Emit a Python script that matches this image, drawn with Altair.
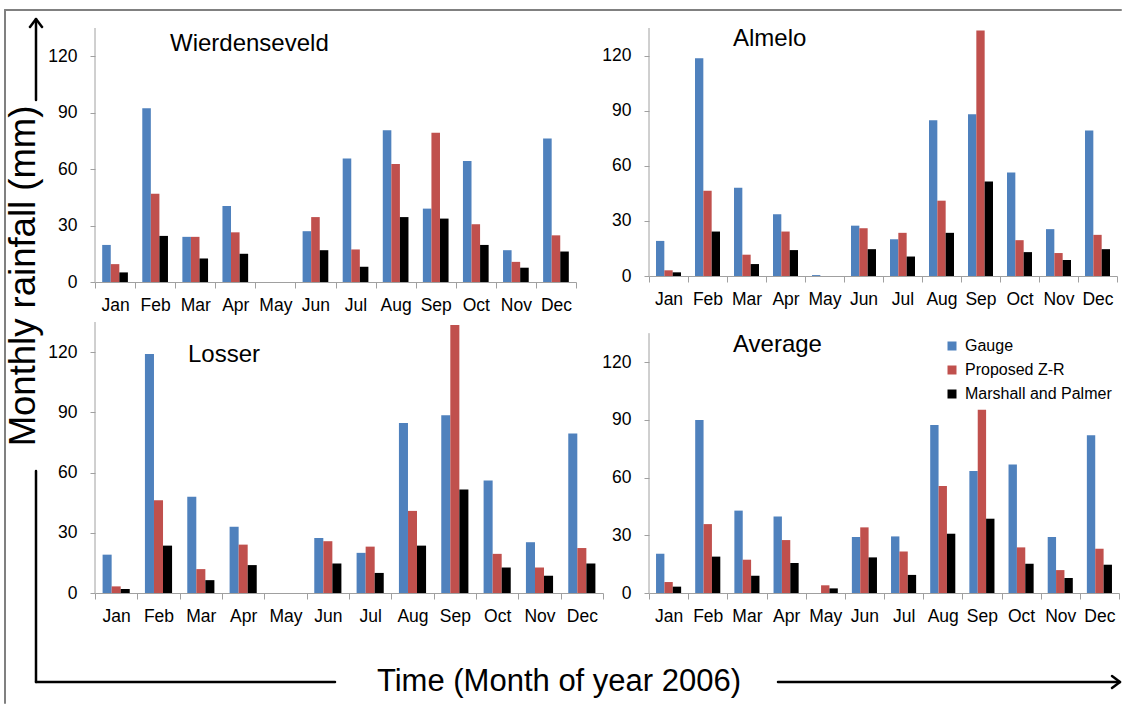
import altair as alt
import pandas as pd

FONT = "Liberation Sans"

# ---- data -------------------------------------------------------------
months = ["Jan", "Feb", "Mar", "Apr", "May", "Jun",
          "Jul", "Aug", "Sep", "Oct", "Nov", "Dec"]
series = ["Gauge", "Proposed Z-R", "Marshall and Palmer"]
series_colors = ["#4F81BD", "#C0504D", "#000000"]
y_ticks = [0, 30, 60, 90, 120]
AXIS_TOP = 135

wierdenseveld_gauge = [19.7, 92.3, 24.0, 40.4, 0.0, 27.0, 65.7, 80.7, 39.0, 64.3, 16.9, 76.3]
wierdenseveld_zr = [9.5, 46.9, 24.0, 26.4, 0.0, 34.5, 17.3, 62.7, 79.3, 30.7, 10.7, 24.8]
wierdenseveld_mp = [5.1, 24.5, 12.5, 15.0, 0.0, 16.9, 8.1, 34.5, 33.7, 19.7, 7.6, 16.2]

almelo_gauge = [19.1, 118.6, 48.0, 33.6, 0.5, 27.4, 20.0, 84.8, 88.1, 56.3, 25.5, 79.2]
almelo_zr = [3.1, 46.4, 11.6, 24.2, 0.0, 26.0, 23.5, 41.0, 133.6, 19.5, 12.5, 22.4]
almelo_mp = [2.0, 24.2, 6.5, 14.1, 0.0, 14.6, 10.6, 23.5, 51.4, 13.0, 8.7, 14.6]

losser_gauge = [19.1, 119.0, 47.9, 33.0, 0.0, 27.4, 20.0, 84.7, 88.5, 56.0, 25.3, 79.4]
losser_zr = [3.3, 46.2, 11.9, 24.1, 0.0, 25.8, 23.1, 40.9, 133.5, 19.5, 12.7, 22.4]
losser_mp = [2.0, 23.6, 6.4, 13.9, 0.0, 14.7, 10.0, 23.6, 51.5, 12.7, 8.6, 14.7]

average_gauge = [20.4, 89.9, 42.8, 39.8, 0.0, 29.1, 29.4, 87.3, 63.4, 66.7, 29.1, 81.9]
average_zr = [5.7, 35.8, 17.3, 27.5, 4.0, 34.1, 21.5, 55.6, 95.2, 23.7, 11.9, 23.0]
average_mp = [3.3, 18.9, 9.0, 15.6, 2.4, 18.5, 9.4, 30.8, 38.6, 15.2, 7.8, 14.7]

y_title = "Monthly rainfall (mm)"
x_title = "Time (Month of year 2006)"

AXIS_GRAY = "#A0A0A0"
BORDER_GRAY = "#808080"


def long_table(gauge, zr, mp):
    rows = []
    for name, vals in zip(series, [gauge, zr, mp]):
        for m, v in zip(months, vals):
            rows.append({"month": m, "series": name, "value": v})
    return pd.DataFrame(rows)


def panel(name, gauge, zr, mp, width, height, ymax, title_xy, legend=None):
    df = long_table(gauge, zr, mp)
    bars = alt.Chart(df).mark_bar().encode(
        x=alt.X("month:N", sort=months,
                scale=alt.Scale(paddingInner=0, paddingOuter=0),
                axis=alt.Axis(title=None, labelAngle=0, tickBand="extent",
                              tickSize=6, labelPadding=8, labelOverlap=False,
                              labelFontSize=17.5)),
        xOffset=alt.XOffset("series:N", sort=series,
                            scale=alt.Scale(paddingInner=0, paddingOuter=0.84)),
        y=alt.Y("value:Q",
                scale=alt.Scale(domain=[0, ymax], nice=False, zero=True),
                axis=alt.Axis(title=None, values=y_ticks, domain=False,
                              tickSize=5, labelPadding=13, labelFlush=False,
                              labelFontSize=17.5)),
        color=alt.Color("series:N", sort=series,
                        scale=alt.Scale(domain=series, range=series_colors),
                        legend=legend),
    )
    # vertical axis line running from 0 to the top of the value axis
    axis_line = alt.Chart(pd.DataFrame({"lo": [0], "hi": [AXIS_TOP]})).mark_rule(
        color=AXIS_GRAY, strokeWidth=1
    ).encode(x=alt.value(0), y="lo:Q", y2="hi:Q")
    label = alt.Chart(pd.DataFrame({"station": [name]})).mark_text(
        align="left", baseline="alphabetic", font=FONT, fontSize=24, color="#000"
    ).encode(x=alt.value(title_xy[0]), y=alt.value(title_xy[1]), text="station:N")
    return alt.layer(bars, axis_line, label).properties(width=width, height=height)


# ---- frame decorations (pixel offsets from the top-left panel origin) ----
OX, OY = 95, 28
DUMMY = alt.Data(values=[{"k": 0}])


def seg(x1, y1, x2, y2, color="#000", width=2.5):
    return alt.Chart(DUMMY).mark_rule(color=color, strokeWidth=width, strokeCap="round").encode(
        x=alt.value(x1 - OX), y=alt.value(y1 - OY),
        x2=alt.value(x2 - OX), y2=alt.value(y2 - OY))


def label(text, x, y, size, angle=0):
    return alt.Chart(alt.Data(values=[{"t": text}])).mark_text(
        font=FONT, fontSize=size, angle=angle, align="center", baseline="middle", color="#000"
    ).encode(x=alt.value(x - OX), y=alt.value(y - OY), text="t:N")


frame = [
    seg(5, 10, 5, 703, BORDER_GRAY, 2),
    seg(5, 10, 1121, 10, BORDER_GRAY, 2),
    # vertical arrow
    seg(36, 20, 36, 100),
    seg(36, 19, 30, 27),
    seg(36, 19, 42, 27),
    label(y_title, 24, 276, 36.5, angle=270),
    # corner
    seg(36, 471, 36, 682),
    seg(36, 682, 335, 682),
    label(x_title, 559, 682, 31),
    # horizontal arrow
    seg(778, 682, 1119, 682),
    seg(1120, 682, 1112, 676),
    seg(1120, 682, 1112, 688),
]

legend = alt.Legend(
    title=None, orient="none", legendX=295, legendY=16,
    symbolType="square", symbolSize=81, symbolStrokeWidth=0,
    labelFont=FONT, labelFontSize=16, labelColor="#000", labelOffset=5,
    rowPadding=8, padding=0,
)

p1 = panel("Wierdenseveld", wierdenseveld_gauge, wierdenseveld_zr, wierdenseveld_mp,
           481, 254, AXIS_TOP, (75, 23))
p1 = alt.layer(p1, *frame)
p2 = panel("Almelo", almelo_gauge, almelo_zr, almelo_mp,
           468, 248, AXIS_TOP, (84, 18))
p3 = panel("Losser", losser_gauge, losser_zr, losser_mp,
           508, 271, AXIS_TOP, (93, 40))
p4 = panel("Average", average_gauge, average_zr, average_mp,
           470, 271, 140.8, (84, 30), legend=legend)

chart = alt.concat(
    p1, p2, p3, p4, columns=2, spacing={"row": 40, "column": 46}, bounds="flush"
).resolve_scale(
    x="independent", y="independent", color="independent", xOffset="independent"
).resolve_axis(
    x="independent", y="independent"
).resolve_legend(
    color="independent"
).properties(
    padding={"left": 4, "top": 9, "right": 0, "bottom": 0},
    background="white",
).configure_view(
    stroke=None
).configure_axis(
    labelFont=FONT, labelColor="#000", domainColor=AXIS_GRAY, tickColor=AXIS_GRAY,
    grid=False,
)

chart.save("out.html", embed_options={"renderer": "svg", "actions": False})
